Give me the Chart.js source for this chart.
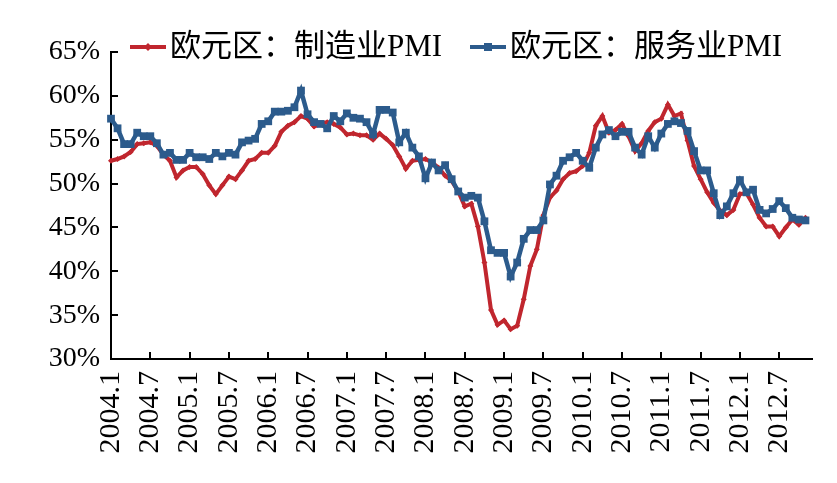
<!DOCTYPE html>
<html>
<head>
<meta charset="utf-8">
<script src="https://cdn.jsdelivr.net/npm/chart.js@4.4.1/dist/chart.umd.min.js"></script>
<style>
  html, body { margin: 0; padding: 0; background: #fff; }
  #chart { display: block; }
</style>
</head>
<body>
<canvas id="chart" width="837" height="483"></canvas>
<script>
// months 2004.1 .. 2012.12 (data runs to 2012.11)
const months = [];
for (let y = 2004; y <= 2012; y++) {
  for (let m = 1; m <= 12; m++) months.push(y + "." + m);
}

const seriesNames = ["欧元区：制造业PMI", "欧元区：服务业PMI"];

// euro area manufacturing PMI
const manufacturing = [
  52.6, 52.8, 53.1, 53.6, 54.5, 54.6, 54.7, 54.3, 53.3, 52.6,
  50.7, 51.5, 51.9, 51.9, 51.1, 49.8, 48.8, 49.8, 50.8, 50.5,
  51.5, 52.6, 52.8, 53.5, 53.5, 54.3, 55.9, 56.6, 57.0, 57.7,
  57.4, 56.5, 56.8, 57.0, 56.8, 56.4, 55.6, 55.7, 55.5, 55.5,
  55.0, 55.7, 55.1, 54.4, 53.1, 51.7, 52.6, 52.7, 52.8, 52.4,
  51.8, 50.9, 50.3, 49.1,
  47.4, 47.7, 45.1, 41.0, 35.6, 33.9, 34.4, 33.4, 33.8, 36.8,
  40.6, 42.5, 46.4, 48.4, 49.2, 50.5, 51.2, 51.4, 52.0, 53.5,
  56.6, 57.7, 55.8, 56.1, 56.8, 55.4, 53.7, 54.6, 56.0, 57.0,
  57.4, 59.0, 57.7, 58.0, 54.9, 52.0, 50.5, 49.0, 47.8, 46.9,
  46.4, 47.0, 48.8, 48.9, 47.6, 46.1, 45.1, 45.1, 44.0, 45.0,
  45.9, 45.3, 46.1
];

// euro area services PMI
const services = [
  57.4, 56.3, 54.5, 54.5, 55.8, 55.4, 55.4, 54.6, 53.3, 53.5,
  52.7, 52.7, 53.5, 53.0, 53.0, 52.8, 53.5, 53.1, 53.5, 53.3,
  54.7, 54.9, 55.1, 56.8, 57.1, 58.2, 58.2, 58.3, 58.7, 60.6,
  57.9, 57.0, 56.8, 56.3, 57.7, 57.1, 58.0, 57.5, 57.4, 57.0,
  55.6, 58.4, 58.4, 58.1, 54.7, 55.8, 54.1, 53.1, 50.6, 52.4,
  51.5, 52.1, 50.5, 49.1,
  48.4, 48.6, 48.4, 45.7, 42.4, 42.1, 42.1, 39.4, 41.0, 43.7,
  44.7, 44.7, 45.8, 49.9, 50.9, 52.6, 53.0, 53.5, 52.6, 51.8,
  54.1, 55.6, 56.1, 55.4, 55.9, 55.9, 54.1, 53.3, 55.4, 54.1,
  55.7, 56.8, 57.1, 56.9, 56.0, 53.7, 51.5, 51.5, 48.9, 46.4,
  47.4, 48.9, 50.4, 49.0, 49.3, 47.0, 46.6, 47.1, 48.0, 47.2,
  46.1, 45.9, 45.8
];

const RED = "#c0262e";
const BLUE = "#2c5b8c";
const FONT = "'Liberation Serif', 'Times New Roman', 'Noto Sans CJK SC', serif";

// inward tick marks and the legend sitting over the top of the plot
const extras = {
  id: "extras",
  afterDraw(chart) {
    const { ctx, chartArea, scales } = chart;
    const x = scales.x;
    const y = scales.y;
    ctx.save();
    ctx.strokeStyle = "#000";
    ctx.lineWidth = 2;
    ctx.beginPath();
    months.forEach((m, i) => {
      if (i % 6 !== 0) return;
      const px = Math.round(x.getPixelForValue(i));
      ctx.moveTo(px, chartArea.bottom);
      ctx.lineTo(px, chartArea.bottom - 7);
    });
    y.ticks.forEach((t) => {
      const py = Math.round(y.getPixelForValue(t.value));
      ctx.moveTo(chartArea.left, py);
      ctx.lineTo(chartArea.left + 7, py);
    });
    ctx.stroke();

    // legend
    const ly = 47;
    const items = [
      { x: 130, color: RED, shape: "diamond", text: seriesNames[0] },
      { x: 470, color: BLUE, shape: "square", text: seriesNames[1] },
    ];
    items.forEach((it) => {
      ctx.strokeStyle = it.color;
      ctx.fillStyle = it.color;
      ctx.lineWidth = 4;
      ctx.beginPath();
      ctx.moveTo(it.x, ly);
      ctx.lineTo(it.x + 36, ly);
      ctx.stroke();
      const cx = it.x + 18;
      ctx.beginPath();
      if (it.shape === "diamond") {
        ctx.moveTo(cx, ly - 4);
        ctx.lineTo(cx + 4, ly);
        ctx.lineTo(cx, ly + 4);
        ctx.lineTo(cx - 4, ly);
      } else {
        ctx.rect(cx - 4, ly - 4, 8, 8);
      }
      ctx.fill();
      ctx.fillStyle = "#000";
      ctx.font = "31px " + FONT;
      ctx.textBaseline = "middle";
      ctx.textAlign = "left";
      ctx.fillText(it.text, it.x + 40, ly + 1);
    });
    ctx.restore();
  },
};

new Chart(document.getElementById("chart"), {
  type: "line",
  data: {
    labels: months,
    datasets: [
      {
        label: seriesNames[0],
        data: manufacturing,
        borderColor: RED,
        backgroundColor: RED,
        borderWidth: 4,
        pointStyle: "rectRot",
        pointRadius: 3,
        pointBorderWidth: 0,
        tension: 0,
        clip: false,
        order: 1,
      },
      {
        label: seriesNames[1],
        data: services,
        borderColor: BLUE,
        backgroundColor: BLUE,
        borderWidth: 4.5,
        pointStyle: "rect",
        pointRadius: 5.5,
        pointBorderWidth: 0,
        tension: 0,
        clip: false,
        order: 0,
      },
    ],
  },
  options: {
    responsive: false,
    animation: false,
    layout: {
      padding: { top: 52, right: 25, left: 0, bottom: 0 },
    },
    plugins: {
      legend: { display: false },
      tooltip: { enabled: false },
    },
    scales: {
      x: {
        type: "category",
        offset: false,
        grid: { display: false, drawTicks: false },
        border: { display: true, color: "#000", width: 2 },
        ticks: {
          autoSkip: false,
          maxRotation: 90,
          minRotation: 90,
          padding: 12,
          color: "#000",
          font: { family: FONT, size: 30 },
          callback: function (value, index) {
            return index % 6 === 0 ? months[index] : null;
          },
        },
        afterFit: function (scale) {
          scale.height = 124;
        },
      },
      y: {
        min: 30,
        max: 65,
        grid: { display: false, drawTicks: false },
        border: { display: true, color: "#000", width: 2 },
        ticks: {
          stepSize: 5,
          padding: 11,
          color: "#000",
          font: { family: FONT, size: 28 },
          callback: function (value) {
            return value + "%";
          },
        },
        afterFit: function (scale) {
          scale.width = 111;
        },
      },
    },
  },
  plugins: [extras],
});
</script>
</body>
</html>
